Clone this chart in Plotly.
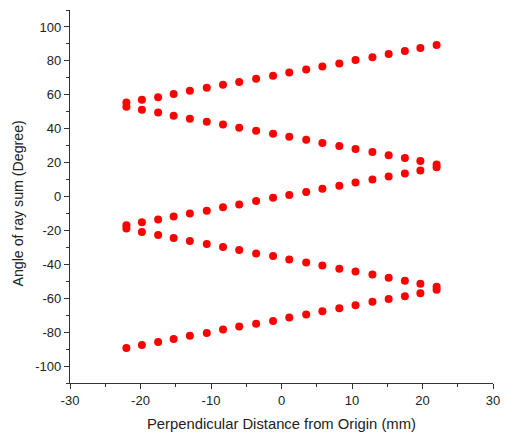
import plotly.graph_objects as go

x_vals = [-22.0, -19.8, -17.5, -15.3, -13.0, -10.6, -8.3, -6.0, -3.6, -1.2,
          1.1, 3.5, 5.8, 8.2, 10.5, 12.9, 15.2, 17.5, 19.7, 22.0]

series_a = [55.4, 57.0, 58.6, 60.4, 62.3, 64.1, 65.9, 67.6, 69.4, 71.2,
            73.1, 74.9, 76.7, 78.5, 80.5, 82.2, 84.0, 85.8, 87.6, 89.3]
series_b = [53.0, 51.2, 49.5, 47.7, 45.9, 44.1, 42.4, 40.6, 38.8, 37.0,
            35.3, 33.5, 31.5, 29.8, 28.0, 26.2, 24.4, 22.7, 20.9, 18.9]
series_c = [-17.0, -15.2, -13.5, -11.8, -10.1, -8.4, -6.3, -4.7, -2.6, -0.8,
            0.9, 2.7, 4.5, 6.3, 8.3, 10.1, 11.8, 13.6, 15.4, 17.2]
series_d = [-18.9, -20.9, -22.7, -24.5, -26.3, -28.0, -29.8, -31.6, -33.6, -35.1,
            -37.1, -38.9, -40.7, -42.6, -44.2, -46.0, -47.9, -49.7, -51.5, -53.3]
series_e = [-89.3, -87.6, -85.8, -84.0, -82.2, -80.5, -78.5, -76.7, -75.0, -73.4,
            -71.4, -69.6, -67.7, -65.9, -64.1, -62.1, -60.4, -58.8, -57.0, -55.0]

x_ticks = [-30, -20, -10, 0, 10, 20, 30]
x_tick_labels = ["-30", "-20", "-10", "0", "10", "20", "30"]
y_ticks = [-100, -80, -60, -40, -20, 0, 20, 40, 60, 80, 100]
y_tick_labels = ["-100", "-80", "-60", "-40", "-20", "0", "20", "40", "60", "80", "100"]

x_title = "Perpendicular Distance from Origin (mm)"
y_title = "Angle of ray sum (Degree)"

FONT = "Liberation Sans, Arial, sans-serif"

fig = go.Figure()
for ys in [series_a, series_b, series_c, series_d, series_e]:
    fig.add_trace(go.Scatter(
        x=x_vals, y=ys, mode="markers",
        marker=dict(color="#ff0000", size=8, line=dict(width=0)),
        showlegend=False, cliponaxis=False,
    ))

axis_common = dict(
    showgrid=False, zeroline=False, showline=True,
    linecolor="#333333", linewidth=1.3,
    ticks="outside", ticklen=5, tickwidth=1.3, tickcolor="#333333",
    tickfont=dict(family=FONT, size=13, color="#222222"),
    minor=dict(ticks="outside", ticklen=3, tickwidth=1.2, tickcolor="#333333"),
)

fig.update_layout(
    width=500, height=428,
    margin=dict(l=62, r=15, t=2, b=53),
    paper_bgcolor="white", plot_bgcolor="white",
    font=dict(family=FONT, color="#222222"),
    xaxis=dict(
        range=[-30, 30], tickvals=x_ticks, ticktext=x_tick_labels,
        minor_dtick=5,
        **axis_common,
    ),
    yaxis=dict(
        range=[-110, 110], tickvals=y_ticks, ticktext=y_tick_labels,
        minor_dtick=10,
        **axis_common,
    ),
    annotations=[
        dict(text=x_title, xref="paper", yref="paper", x=0.501, y=0,
             xanchor="center", yanchor="middle", yshift=-41, showarrow=False,
             font=dict(family=FONT, size=14.8, color="#222222")),
        dict(text=y_title, xref="paper", yref="paper", x=0, y=0.481,
             xanchor="center", yanchor="middle", xshift=-52, textangle=-90,
             showarrow=False,
             font=dict(family=FONT, size=14.2, color="#222222")),
    ],
)

fig.write_html("out.html")
